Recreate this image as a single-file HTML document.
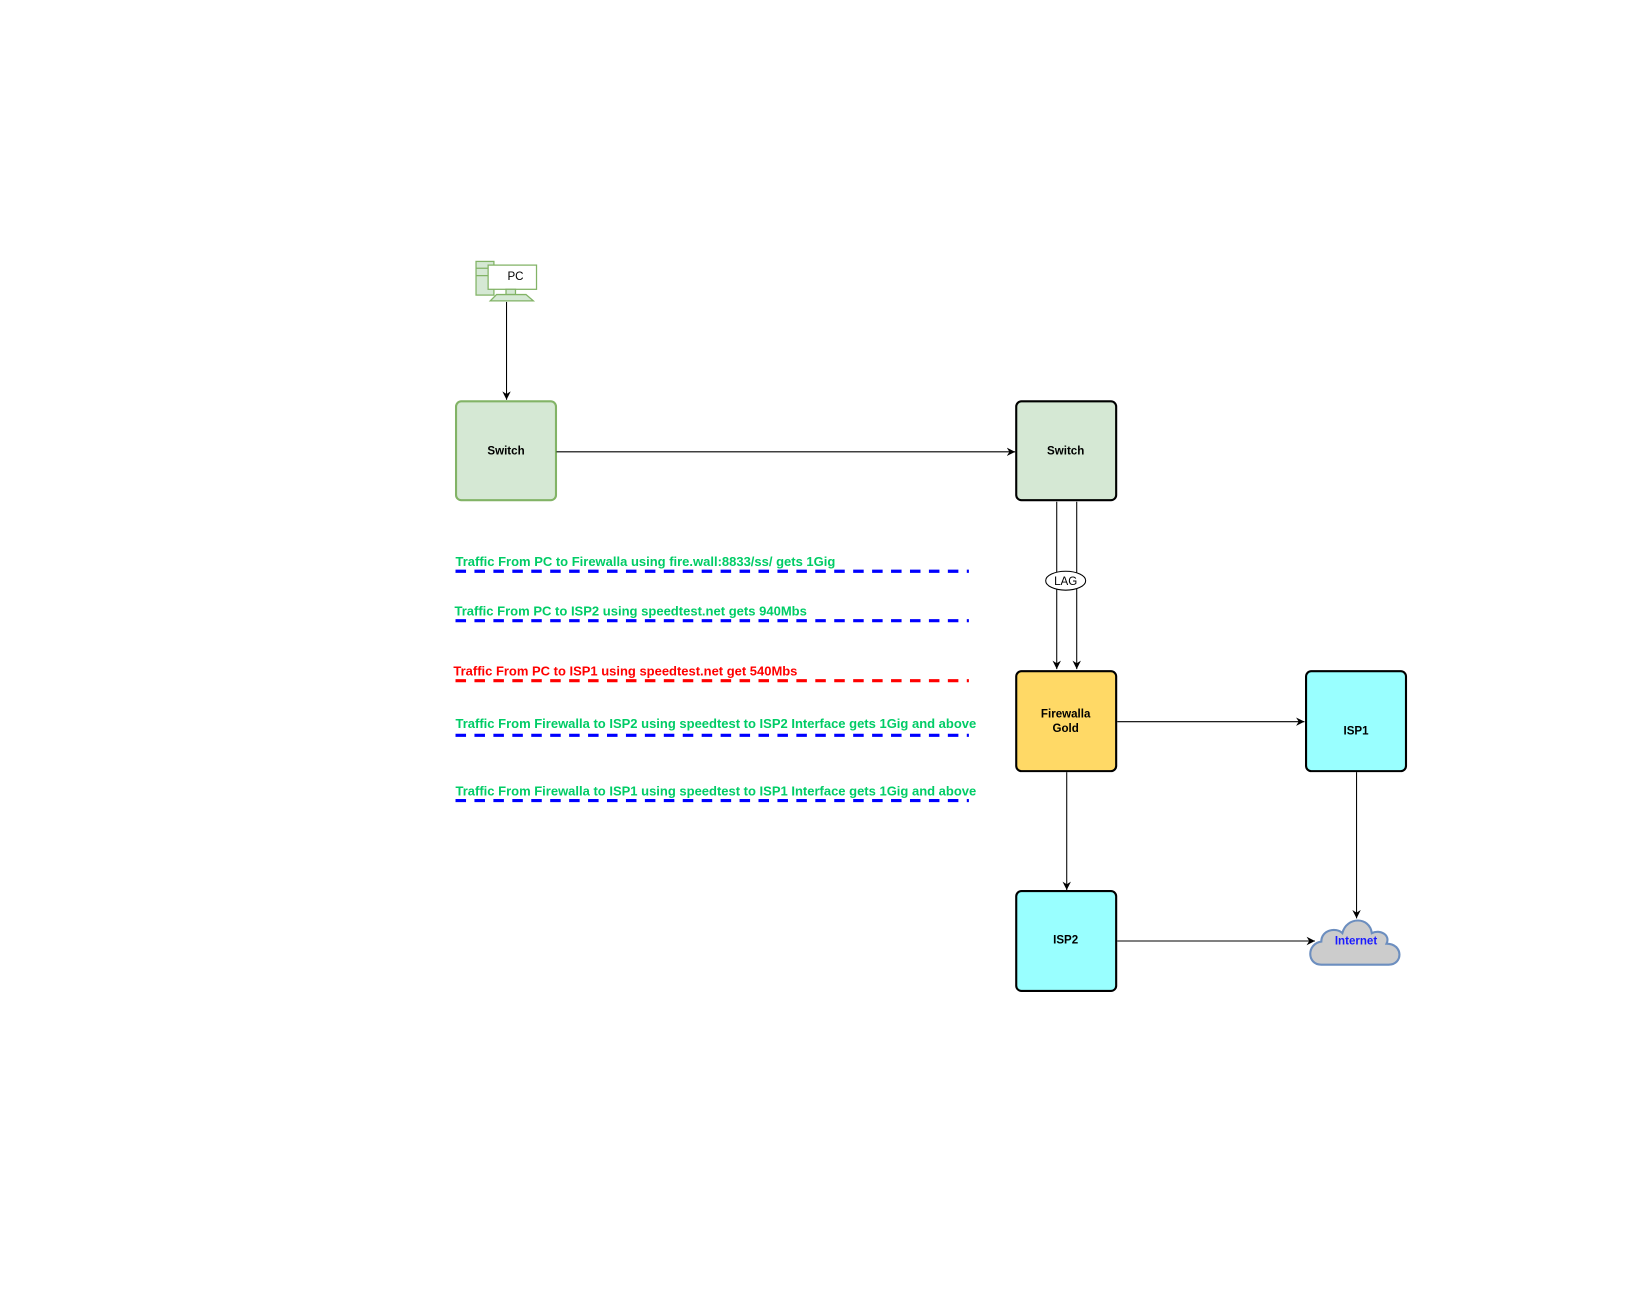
<!DOCTYPE html>
<html><head><meta charset="utf-8"><style>html,body{margin:0;padding:0;background:#fff;}svg{display:block}</style></head>
<body>
<svg width="1650" height="1300" viewBox="0 0 1650 1300" xmlns="http://www.w3.org/2000/svg" font-family="Liberation Sans, Arial, sans-serif">
<defs>
<marker id="a" markerWidth="10" markerHeight="10" refX="8" refY="5" orient="auto" markerUnits="userSpaceOnUse">
<path d="M0,1 L8,5 L0,9 L2.5,5 Z" fill="#000"/>
</marker>
</defs>
<g transform="scale(1.052)">
<!-- PC icon -->
<g stroke="#82b366" fill="#d5e8d4" stroke-width="1.2">
<rect x="452.5" y="248.5" width="17" height="32"/>
<line x1="452.5" y1="255" x2="469.5" y2="255"/>
<line x1="452.5" y1="262" x2="469.5" y2="262"/>
<rect x="464" y="252" width="46" height="23" fill="#fff"/>
<rect x="481" y="275" width="9" height="5"/>
<path d="M472,280 L500,280 L507,286 L466,286 Z"/>
</g>
<text x="490" y="266" font-size="11" text-anchor="middle" fill="#000">PC</text>
<line x1="481.5" y1="287" x2="481.5" y2="380" stroke="#000" stroke-width="1" marker-end="url(#a)"/>
<!-- Switch 1 -->
<rect x="433.5" y="381.5" width="95" height="94" rx="5" fill="#d5e8d4" stroke="#82b366" stroke-width="2"/>
<text x="481" y="432" font-size="11" font-weight="bold" text-anchor="middle">Switch</text>
<line x1="529" y1="429.5" x2="965" y2="429.5" stroke="#000" marker-end="url(#a)"/>
<!-- Switch 2 -->
<rect x="966" y="381.5" width="95" height="94" rx="5" fill="#d5e8d4" stroke="#000" stroke-width="2"/>
<text x="1013" y="432" font-size="11" font-weight="bold" text-anchor="middle">Switch</text>
<line x1="1004.5" y1="477" x2="1004.5" y2="636" stroke="#000" marker-end="url(#a)"/>
<line x1="1023.5" y1="477" x2="1023.5" y2="636" stroke="#000" marker-end="url(#a)"/>
<ellipse cx="1013" cy="552" rx="19" ry="9" fill="#fff" stroke="#000"/>
<text x="1013" y="556" font-size="11" text-anchor="middle">LAG</text>
<!-- Firewalla -->
<rect x="966" y="638" width="95" height="95" rx="5" fill="#ffd966" stroke="#000" stroke-width="2"/>
<text x="1013" y="682" font-size="11" font-weight="bold" text-anchor="middle">Firewalla</text>
<text x="1013" y="696" font-size="11" font-weight="bold" text-anchor="middle">Gold</text>
<line x1="1062" y1="686" x2="1240" y2="686" stroke="#000" marker-end="url(#a)"/>
<line x1="1014" y1="734" x2="1014" y2="846" stroke="#000" marker-end="url(#a)"/>
<!-- ISP1 -->
<rect x="1241.5" y="638" width="95" height="95" rx="5" fill="#99ffff" stroke="#000" stroke-width="2"/>
<text x="1289" y="698" font-size="11" font-weight="bold" text-anchor="middle">ISP1</text>
<line x1="1289.5" y1="734" x2="1289.5" y2="873" stroke="#000" marker-end="url(#a)"/>
<!-- ISP2 -->
<rect x="966" y="847" width="95" height="95" rx="5" fill="#99ffff" stroke="#000" stroke-width="2"/>
<text x="1013" y="897" font-size="11" font-weight="bold" text-anchor="middle">ISP2</text>
<line x1="1062" y1="894.5" x2="1250" y2="894.5" stroke="#000" marker-end="url(#a)"/>
<!-- Cloud -->
<path d="M1256,917 C1242,917 1242,897 1256,895 C1256,884 1270,881 1276,887 C1280,871 1302,871 1304,887 C1312,883 1322,889 1318,897 C1334,897 1334,917 1320,917 Z" fill="#cccccc" stroke="#6c8ebf" stroke-width="2"/>
<text x="1289" y="898" font-size="11" font-weight="bold" text-anchor="middle" fill="#1a1aff">Internet</text>
<!-- Legend -->
<g font-size="12" font-weight="bold">
<text x="433" y="538" fill="#00cc66" textLength="361" lengthAdjust="spacingAndGlyphs">Traffic From PC to Firewalla using fire.wall:8833/ss/ gets 1Gig</text>
<text x="432" y="585" fill="#00cc66" textLength="335" lengthAdjust="spacingAndGlyphs">Traffic From PC to ISP2 using speedtest.net gets 940Mbs</text>
<text x="431" y="642" fill="#ff0000" textLength="327" lengthAdjust="spacingAndGlyphs">Traffic From PC to ISP1 using speedtest.net get 540Mbs</text>
<text x="433" y="692" fill="#00cc66" textLength="495" lengthAdjust="spacingAndGlyphs">Traffic From Firewalla to ISP2 using speedtest to ISP2 Interface gets 1Gig and above</text>
<text x="433" y="756" fill="#00cc66" textLength="495" lengthAdjust="spacingAndGlyphs">Traffic From Firewalla to ISP1 using speedtest to ISP1 Interface gets 1Gig and above</text>
</g>
<g stroke-width="3" stroke-dasharray="10 8" fill="none">
<line x1="433" y1="543" x2="921" y2="543" stroke="#0000ff"/>
<line x1="433" y1="590" x2="921" y2="590" stroke="#0000ff"/>
<line x1="433" y1="647" x2="921" y2="647" stroke="#ff0000"/>
<line x1="433" y1="699" x2="921" y2="699" stroke="#0000ff"/>
<line x1="433" y1="761" x2="921" y2="761" stroke="#0000ff"/>
</g>
</g>
</svg>
</body></html>
